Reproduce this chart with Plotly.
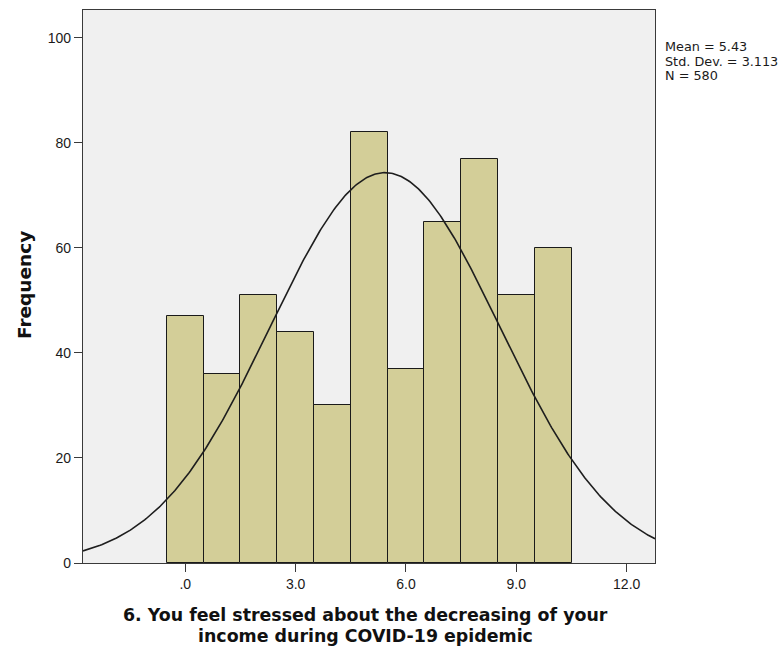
import numpy as np
import plotly.graph_objects as go

# Histogram of item 6 responses (0-10 scale)
scores = [0, 1, 2, 3, 4, 5, 6, 7, 8, 9, 10]
frequency = [47, 36, 51, 44, 30, 82, 37, 65, 77, 51, 60]

# Summary statistics shown beside the plot
mean_value = 5.43
std_dev = 3.113
n_total = 580

x_ticks = [0, 3, 6, 9, 12]
x_tick_labels = [".0", "3.0", "6.0", "9.0", "12.0"]
y_ticks = [0, 20, 40, 60, 80, 100]

x_range = [-2.78, 12.77]
y_range = [0, 105.3]

bar_color = "#D3CE98"
plot_bg = "#F0F0F0"
axis_color = "#3A3A3A"
tick_family = "Liberation Sans, Arial, sans-serif"
label_family = "DejaVu Sans, Verdana, sans-serif"

# Normal curve scaled to counts (bin width = 1)
curve_x = np.linspace(x_range[0], x_range[1], 400)
curve_y = n_total / (std_dev * np.sqrt(2 * np.pi)) * np.exp(-0.5 * ((curve_x - mean_value) / std_dev) ** 2)

fig = go.Figure()
fig.add_trace(go.Bar(
    x=scores, y=frequency, width=1,
    marker=dict(color=bar_color, line=dict(color="#1A1A1A", width=1)),
    hoverinfo="x+y",
))
fig.add_trace(go.Scatter(
    x=curve_x, y=curve_y, mode="lines",
    line=dict(color="#1E1E1E", width=1.6),
    hoverinfo="skip",
))

fig.update_layout(
    width=784, height=647,
    margin=dict(l=83, r=129, t=10, b=84),
    paper_bgcolor="white",
    plot_bgcolor=plot_bg,
    showlegend=False,
    bargap=0,
    font=dict(family=tick_family, color="#1A1A1A"),
)

fig.update_xaxes(
    range=x_range, tickvals=x_ticks, ticktext=x_tick_labels,
    showgrid=False, zeroline=False,
    showline=True, mirror=True, linecolor=axis_color, linewidth=1.2,
    ticks="outside", ticklen=8, tickwidth=1.2, tickcolor=axis_color,
    tickfont=dict(size=14, color="#1A1A1A"),
)
fig.update_yaxes(
    range=y_range, tickvals=y_ticks,
    showgrid=False, zeroline=False,
    showline=True, mirror=True, linecolor=axis_color, linewidth=1.2,
    ticks="outside", ticklen=8, tickwidth=1.2, tickcolor=axis_color,
    tickfont=dict(size=14, color="#1A1A1A"),
)

title_font = dict(family=label_family, size=17.4, color="#111111", weight="bold")

# X-axis title, two centred lines below the plot
fig.add_annotation(
    text="6. You feel stressed about the decreasing of your",
    xref="paper", yref="paper", x=(365 - 83) / 572, y=-(615 - 563) / 553,
    xanchor="center", yanchor="middle", showarrow=False, font=title_font,
)
fig.add_annotation(
    text="income during COVID-19 epidemic",
    xref="paper", yref="paper", x=(365 - 83) / 572, y=-(636 - 563) / 553,
    xanchor="center", yanchor="middle", showarrow=False, font=title_font,
)

# Y-axis title
fig.add_annotation(
    text="Frequency", textangle=-90,
    xref="paper", yref="paper", x=(24 - 83) / 572, y=(563 - 285) / 553,
    xanchor="center", yanchor="middle", showarrow=False,
    font=dict(family=label_family, size=18.5, color="#111111", weight="bold"),
)

# Statistics box text
stats_lines = [f"Mean = {mean_value:.2f}", f"Std. Dev. = {std_dev:.3f}", f"N = {n_total}"]
for i, line in enumerate(stats_lines):
    fig.add_annotation(
        text=line, xref="paper", yref="paper",
        x=(663 - 83) / 572, y=(563 - (46 + 15 * i)) / 553,
        xanchor="left", yanchor="middle", showarrow=False,
        font=dict(family=label_family, size=12.8, color="#1A1A1A"),
    )

fig.write_html("out.html")
